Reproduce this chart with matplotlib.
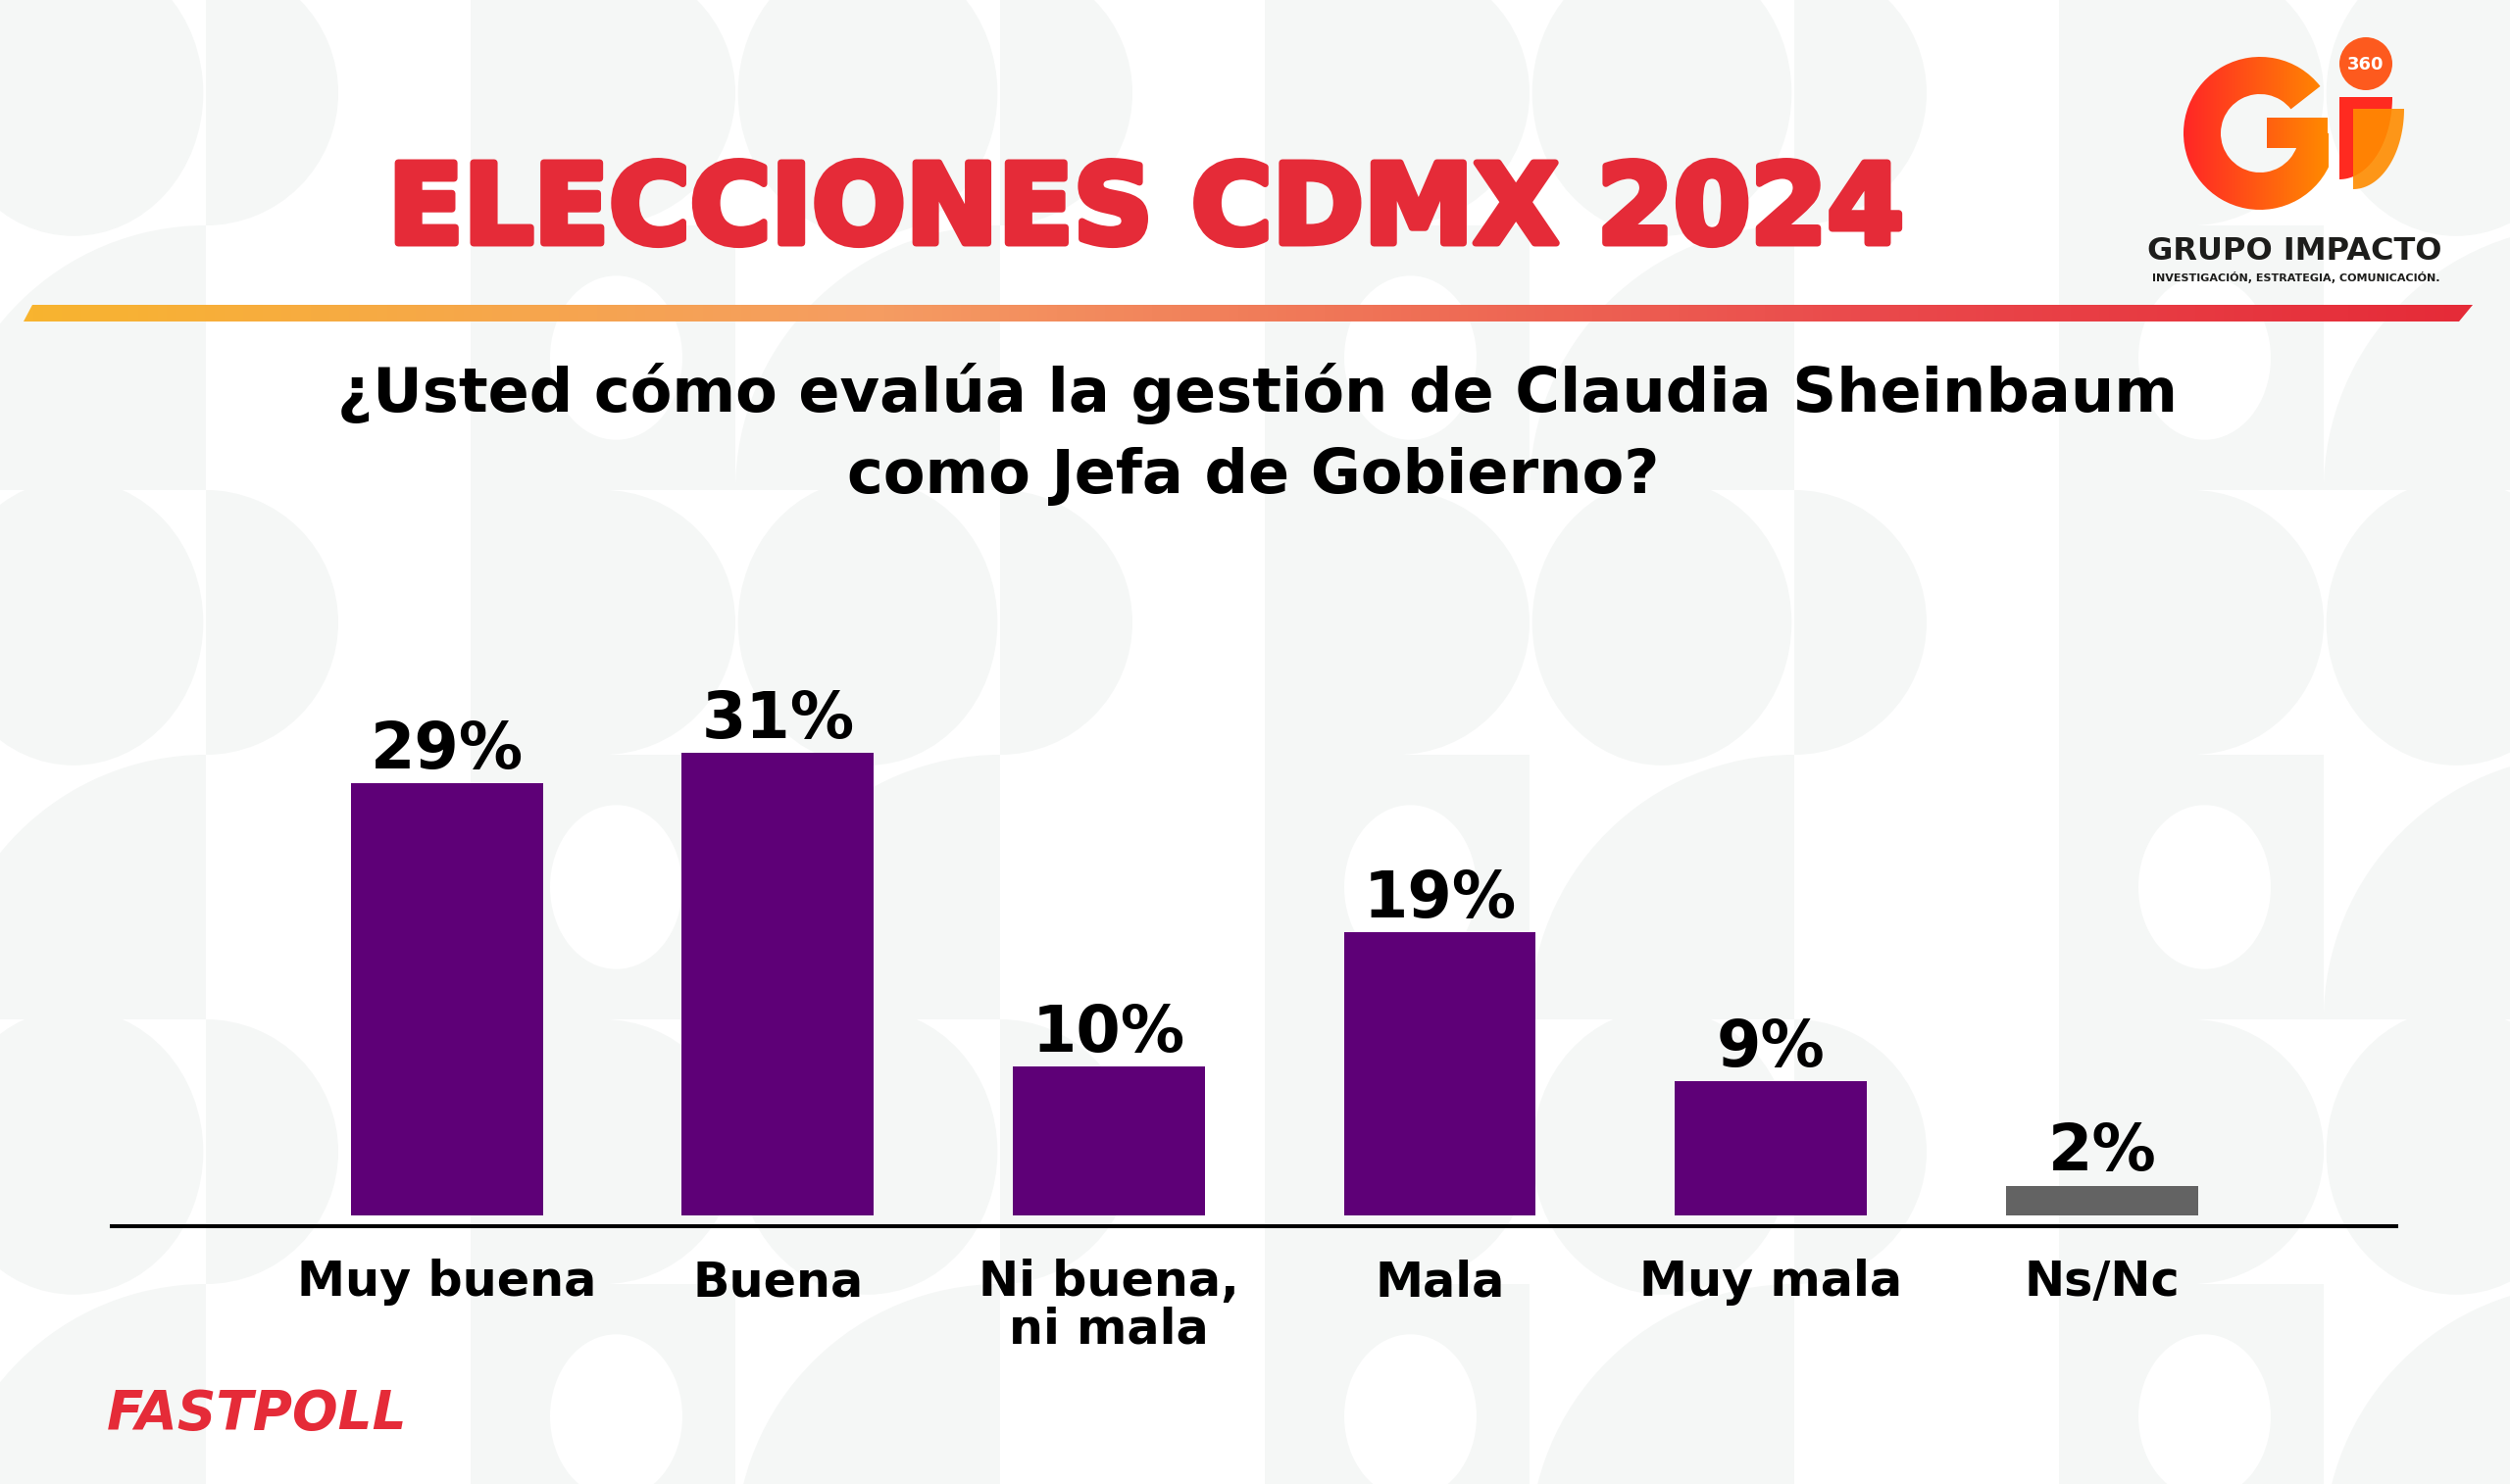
import matplotlib
matplotlib.use('Agg')
import matplotlib.pyplot as plt
import matplotlib.patheffects as pe
from matplotlib.patches import Polygon, Wedge, Rectangle, Circle, Ellipse
from matplotlib.colors import LinearSegmentedColormap
import numpy as np

W, H = 2560, 1514

# data
categories = ['Muy buena', 'Buena', 'Ni buena,\nni mala', 'Mala', 'Muy mala', 'Ns/Nc']
values = [29, 31, 10, 19, 9, 2]
bar_colors = ['#5e0077', '#5e0077', '#5e0077', '#5e0077', '#5e0077', '#636363']
title = 'ELECCIONES CDMX 2024'
question = ['¿Usted cómo evalúa la gestión de Claudia Sheinbaum', 'como Jefa de Gobierno?']
brand = 'GRUPO IMPACTO'
tagline = 'INVESTIGACIÓN, ESTRATEGIA, COMUNICACIÓN.'
footer = 'FASTPOLL'

RED = '#e52b38'
GRAY = '#f5f7f6'

plt.rcParams['font.family'] = ['DejaVu Sans']

fig = plt.figure(figsize=(25.6, 15.14), dpi=100)
fig.patch.set_facecolor('white')

# background canvas in pixel coords (y down)
bg = fig.add_axes([0, 0, 1, 1])
bg.axis('off')

# light geometric pattern
cell = 270
for i in range(-1, 11):
    for j in range(-1, 7):
        x0, y0 = i * cell - 60, j * cell - 40
        k = (i * 2 + j * 3) % 6
        if k == 0:
            bg.add_patch(Ellipse((x0 + cell / 2, y0 + cell / 2), cell * 0.98, cell * 1.08,
                                 color=GRAY, lw=0, zorder=0))
        elif k == 1:
            bg.add_patch(Rectangle((x0, y0), cell, cell, color=GRAY, lw=0, zorder=0))
            bg.add_patch(Ellipse((x0 + cell * 0.55, y0 + cell * 0.5), cell * 0.5, cell * 0.62,
                                 color='white', lw=0, zorder=0.1))
        elif k == 2:
            bg.add_patch(Wedge((x0, y0 + cell / 2), cell / 2, -90, 90, color=GRAY, lw=0, zorder=0))
        elif k == 3:
            bg.add_patch(Wedge((x0 + cell, y0 + cell), cell, 180, 270, color=GRAY, lw=0, zorder=0))
        elif k == 4:
            bg.add_patch(Rectangle((x0, y0), cell / 2, cell, color=GRAY, lw=0, zorder=0))
            bg.add_patch(Wedge((x0 + cell / 2, y0 + cell / 2), cell / 2, -90, 90, color=GRAY, lw=0, zorder=0))


def grad_fill(patch, x0, x1, cmap, z=2):
    grad = np.linspace(0, 1, 256).reshape(1, -1)
    im = bg.imshow(grad, cmap=cmap, extent=(x0, x1, 0, H), aspect='auto', zorder=z)
    patch.set_transform(bg.transData)
    im.set_clip_path(patch)


# gradient rule under the title
rule_cmap = LinearSegmentedColormap.from_list('rule', [(0, '#f8b42f'), (0.35, '#f59c62'),
                                                       (0.75, '#ea4a4c'), (1, RED)])
grad_fill(Polygon([(24, 328), (33, 311), (2522, 311), (2508, 328)], closed=True), 24, 2522, rule_cmap)

# logo
logo_cmap = LinearSegmentedColormap.from_list('logo', ['#ff2626', '#ff8a00'])
gx, gy = 2305, 136
grad_fill(Wedge((gx, gy), 78, 0, 322, width=38), 2227, 2375, logo_cmap, z=3)
grad_fill(Rectangle((2312, 120), 62, 31), 2227, 2375, logo_cmap, z=3)
t = np.linspace(0, np.pi / 2, 40)
red_i = [(2386, 99)] + list(zip(2386 + 54 * np.cos(t), 99 + 84 * np.sin(t)))
bg.add_patch(Polygon(red_i, closed=True, color='#ff2a20', lw=0, zorder=3))
org_i = [(2400, 111)] + list(zip(2400 + 52 * np.cos(t), 111 + 82 * np.sin(t)))
bg.add_patch(Polygon(org_i, closed=True, color='#ff8c00', alpha=0.9, lw=0, zorder=3.1))
bg.add_patch(Circle((2413, 65), 27, color='#fd5a1e', lw=0, zorder=3))
bg.text(2413, 66, '360', ha='center', va='center', fontsize=13, fontweight='bold',
        color='white', zorder=4)
bg.text(2340, 265, brand, ha='center', va='baseline', fontsize=23, fontweight='bold',
        color='#1d1d1b', zorder=4)
bg.text(2342, 287, tagline, ha='center', va='baseline', fontsize=8, fontweight='bold',
        color='#1d1d1b', zorder=4)

# titles
bg.text(1169, 248, title, ha='center', va='baseline', fontsize=81, fontweight='bold',
        color=RED, zorder=4,
        path_effects=[pe.withStroke(linewidth=5, foreground=RED)])
bg.text(1282, 420, question[0], ha='center', va='baseline', fontsize=44.8,
        fontweight='bold', color='black', zorder=4)
bg.text(1278, 503, question[1], ha='center', va='baseline', fontsize=44.8,
        fontweight='bold', color='black', zorder=4)
bg.text(109, 1458, footer, ha='left', va='baseline', fontsize=39.5, fontweight='bold',
        style='italic', color=RED, zorder=4)

bg.set_xlim(0, W)
bg.set_ylim(H, 0)

# bar chart
ax = fig.add_axes([114 / W, (H - 1251) / H, 2330 / W, 691 / H])
ax.patch.set_alpha(0)
x = np.arange(len(values))
ax.bar(x, values, width=0.58, color=bar_colors, zorder=2)
for xi, v in zip(x, values):
    ax.annotate(f'{v}%', (xi, v), xytext=(0, 11), textcoords='offset points',
                ha='center', va='baseline', fontsize=47, fontweight='bold', color='black')

ax.set_xlim(-1.012, 5.889)
ax.set_ylim(-0.72, 44.7)
for s in ['left', 'right', 'top']:
    ax.spines[s].set_visible(False)
ax.spines['bottom'].set_linewidth(2.9)
ax.spines['bottom'].set_color('black')
ax.set_yticks([])
ax.set_xticks(x)
ax.set_xticklabels(categories, fontsize=35.5, fontweight='bold', linespacing=1.0)
ax.tick_params(axis='x', length=0, pad=24)

plt.savefig('out.png', dpi=100)
plt.close()
